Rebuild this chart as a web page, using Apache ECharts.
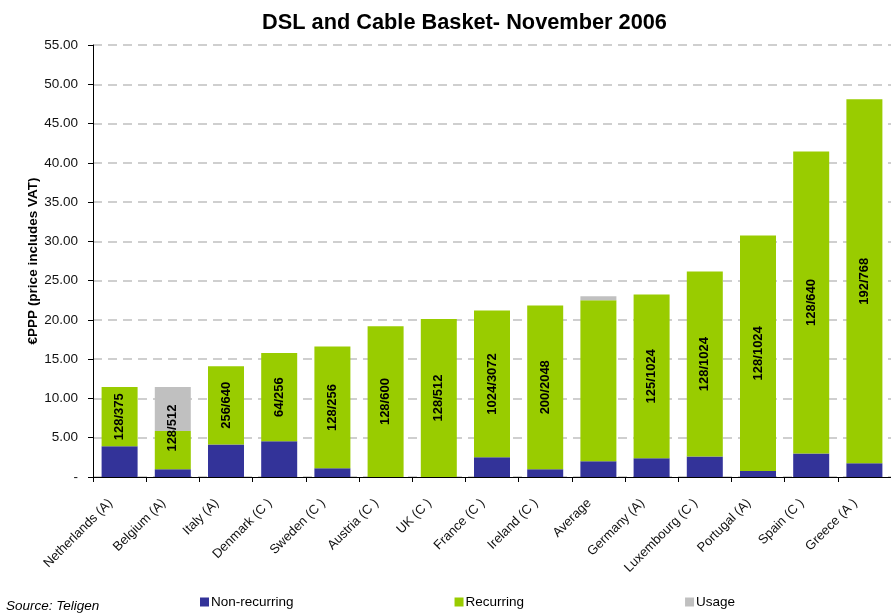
<!DOCTYPE html>
<html>
<head>
<meta charset="utf-8">
<title>DSL and Cable Basket- November 2006</title>
<script src="https://cdn.jsdelivr.net/npm/echarts@6/dist/echarts.min.js"></script>
<style>
  html, body { margin: 0; padding: 0; background: #fff; }
  #chart { width: 891px; height: 613px; }
</style>
</head>
<body>
<div id="chart"></div>
<script>
// Countries (broadband speed class in brackets) and the EU average
const categories = [
  'Netherlands (A)', 'Belgium (A)', 'Italy (A)', 'Denmark (C )', 'Sweden (C )',
  'Austria (C )', 'UK (C )', 'France (C )', 'Ireland (C )', 'Average',
  'Germany (A)', 'Luxembourg (C )', 'Portugal (A)', 'Spain (C )', 'Greece (A )'
];

// Monthly basket cost in €PPP, split by component
const nonRecurring = [3.9, 1.0, 4.15, 4.55, 1.1, 0, 0, 2.5, 1.0, 2.0, 2.4, 2.6, 0.75, 3.0, 1.75];
const recurring    = [7.55, 4.85, 9.95, 11.25, 15.5, 19.2, 20.1, 18.7, 20.85, 20.5, 20.85, 23.55, 30.0, 38.45, 46.35];
const usage        = [null, 5.6, null, null, null, null, null, null, null, 0.5, null, null, null, null, null];

// Down/up speed (kbit/s) of each offer
const speeds = [
  '128/375', '128/512', '256/640', '64/256', '128/256', '128/600', '128/512',
  '1024/3072', '200/2048', '', '125/1024', '128/1024', '128/1024', '128/640', '192/768'
];

// Value axis ticks
const yMin = 0, yMax = 55, yStep = 5;

const FONT = '"Liberation Sans", Arial, Helvetica, sans-serif';
const gridTop = 45, gridHeight = 432;
const pxPerUnit = gridHeight / (yMax - yMin);

// Speed labels sit on the recurring segment; where usage dominates the bar
// the label is centred on the recurring + usage part of the stack.
// (Label is rotated 90°, so its local x axis points up the bar.)
const recurringData = recurring.map((v, i) => {
  const u = usage[i] || 0;
  const item = { value: v };
  if (u > v) {
    const shift = u / 2 * pxPerUnit;
    item.label = { offset: [shift, 0] };
  }
  return item;
});

const chart = echarts.init(document.getElementById('chart'), null, { renderer: 'canvas' });

chart.setOption({
  animation: false,
  backgroundColor: '#ffffff',
  title: {
    text: 'DSL and Cable Basket- November 2006',
    left: 257,
    top: 7,
    textStyle: { fontFamily: FONT, fontSize: 21.75, fontWeight: 'bold', color: '#000' }
  },
  legend: {
    left: 195,
    top: 590,
    itemGap: 161,
    itemWidth: 9,
    itemHeight: 9,
    icon: 'rect',
    selectedMode: false,
    textStyle: { fontFamily: FONT, fontSize: 13.5, color: '#000', padding: [0, 0, 0, -3] },
    data: ['Non-recurring', 'Recurring', 'Usage']
  },
  graphic: [{
    type: 'text',
    left: 6,
    top: 599,
    style: {
      text: 'Source: Teligen',
      fontFamily: FONT,
      fontSize: 13.5,
      fontStyle: 'italic',
      fill: '#000'
    }
  }],
  grid: { left: 93, top: gridTop, height: gridHeight, width: 807, containLabel: false },
  xAxis: {
    type: 'category',
    data: categories,
    boundaryGap: true,
    axisLine: { lineStyle: { color: '#000', width: 1 } },
    axisTick: { show: true, length: 5, lineStyle: { color: '#000' } },
    axisLabel: {
      rotate: 45,
      interval: 0,
      margin: 15,
      padding: [0, 13, 0, 0],
      fontFamily: FONT,
      fontSize: 13,
      color: '#111'
    }
  },
  yAxis: {
    type: 'value',
    min: yMin,
    max: yMax,
    interval: yStep,
    name: '€PPP (price includes VAT)',
    nameLocation: 'middle',
    nameGap: 53,
    nameRotate: 90,
    nameMoveOverlap: false,
    nameTextStyle: { fontFamily: FONT, fontSize: 13.5, fontWeight: 'bold', color: '#000' },
    axisLine: { show: true, lineStyle: { color: '#000', width: 1 } },
    axisTick: { show: true, length: 5, lineStyle: { color: '#000' } },
    axisLabel: {
      margin: 15,
      fontFamily: FONT,
      fontSize: 13.5,
      color: '#111',
      formatter: v => (v === 0 ? '-' : v.toFixed(2))
    },
    splitLine: { show: true, lineStyle: { color: '#c0c0c0', width: 1.5, type: [9, 6] } }
  },
  series: [
    {
      name: 'Non-recurring',
      type: 'bar',
      stack: 'basket',
      barWidth: 36,
      itemStyle: { color: '#333399' },
      data: nonRecurring
    },
    {
      name: 'Recurring',
      type: 'bar',
      stack: 'basket',
      barWidth: 36,
      itemStyle: { color: '#99cc00' },
      label: {
        show: true,
        position: 'inside',
        rotate: 90,
        fontFamily: FONT,
        fontSize: 13,
        fontWeight: 'bold',
        color: '#000',
        formatter: p => speeds[p.dataIndex]
      },
      data: recurringData
    },
    {
      name: 'Usage',
      type: 'bar',
      stack: 'basket',
      barWidth: 36,
      itemStyle: { color: '#c0c0c0' },
      data: usage
    }
  ]
});
</script>
</body>
</html>
